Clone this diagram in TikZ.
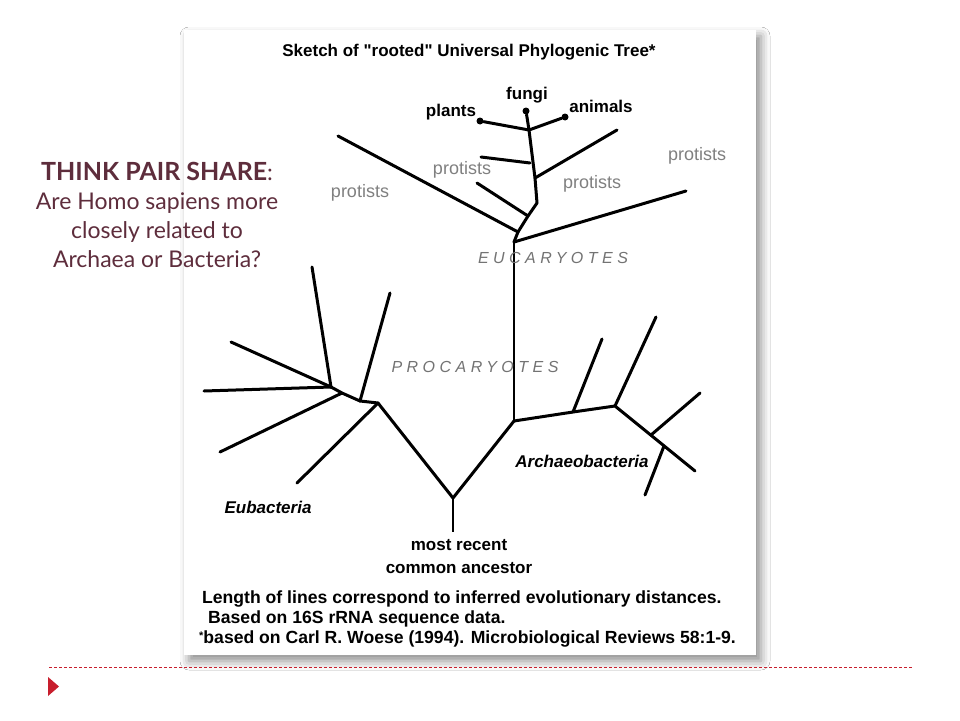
\documentclass[tikz,border=0pt]{standalone}
\usepackage{fontspec}
\usepackage{tikz}
\usetikzlibrary{shadows.blur}
\setmainfont{Liberation Sans}
\newfontfamily\slidefont{Lato}
\newfontfamily\spacedfont[LetterSpace=28]{Liberation Sans}
\newcommand{\straightquote}{\XeTeXglyph\XeTeXglyphindex "quotedbl"\relax}
\definecolor{plum}{RGB}{94,45,60}
\definecolor{slidered}{RGB}{200,30,45}

\begin{document}
\begin{tikzpicture}[x=1pt, y=-1pt,
  branch/.style={line width=3pt, line cap=round, line join=round},
  stem/.style={line width=2pt},
  tip/.style={circle, fill, inner sep=0pt, minimum size=7pt},
  lbl/.style={inner sep=0pt, font=\fontsize{17}{20}\selectfont\bfseries},
  grp/.style={inner sep=0pt, text=black!55, font=\fontsize{16}{18}\selectfont\spacedfont\itshape},
  prot/.style={inner sep=0pt, text=black!50, font=\fontsize{18}{20}\selectfont},
  note/.style={inner sep=0pt, anchor=west, font=\fontsize{17.6}{20}\selectfont\bfseries}]
\useasboundingbox (0,0) rectangle (960,720);
\fill[white] (0,0) rectangle (960,720);
% card with shadow
\fill[white, blur shadow={shadow xshift=5pt, shadow yshift=-6pt, shadow blur radius=9pt, shadow opacity=45}]
  (184,30) rectangle (756,655);

\node[lbl] (title) at (469,52) {Sketch of \straightquote rooted\straightquote\ Universal Phylogenic Tree*};

% eucaryotes
\node[tip] (pl) at (480,121) {};
\node[tip] (fu) at (526,111) {};
\node[tip] (an) at (565,117) {};
\coordinate (e1) at (529,130);
\coordinate (e2) at (530,163);
\coordinate (e3) at (535,178);
\coordinate (e4) at (537,203);
\coordinate (e5) at (528,216);
\coordinate (e6) at (518,232);
\coordinate (e7) at (514,242);
\coordinate (p1) at (481,157);
\coordinate (p2) at (617,130);
\coordinate (p3) at (477,183);
\coordinate (p4) at (338,136);
\coordinate (p5) at (686,191);
\draw[branch] (pl) -- (e1) -- (an);
\draw[branch] (fu) -- (e1);
\draw[branch] (e1) -- (e3) -- (e4) -- (e5) -- (e6) -- (e7);
\draw[branch] (e2) -- (p1);
\draw[branch] (e3) -- (p2);
\draw[branch] (e5) -- (p3);
\draw[branch] (e6) -- (p4);
\draw[branch] (e7) -- (p5);

% archaeobacteria
\coordinate (r1) at (514,421);
\coordinate (a1) at (573,412);
\coordinate (a2) at (615,406);
\coordinate (a3) at (651,435);
\coordinate (a5) at (664,446);
\coordinate (a4) at (695,471);
\coordinate (q1) at (602,339);
\coordinate (q2) at (656,317);
\coordinate (q3) at (700,393);
\coordinate (q4) at (645,495);
\draw[stem] (e7) -- (r1);
\draw[branch] (r1) -- (a1) -- (a2) -- (a4);
\draw[branch] (a1) -- (q1);
\draw[branch] (a2) -- (q2);
\draw[branch] (a3) -- (q3);
\draw[branch] (a5) -- (q4);

% eubacteria and root
\coordinate (rt) at (453,498);
\coordinate (rb) at (453,532);
\coordinate (b1) at (378,403);
\coordinate (b2) at (360,401);
\coordinate (b3) at (342,393);
\coordinate (b4) at (331,387);
\coordinate (c1) at (297,483);
\coordinate (c2) at (390,293);
\coordinate (c3) at (220,452);
\coordinate (c4) at (312,267);
\coordinate (c5) at (204,391);
\coordinate (c6) at (231,342);
\draw[branch] (b2) -- (b1) -- (rt) -- (r1);
\draw[stem] (rt) -- (rb);
\draw[branch] (b1) -- (c1);
\draw[branch] (b2) -- (c2);
\draw[branch] (b2) -- (b3) -- (b4);
\draw[branch] (b3) -- (c3);
\draw[branch] (b4) -- (c4);
\draw[branch] (b4) -- (c5);
\draw[branch] (b4) -- (c6);

% labels
\node[lbl] (plants) at (451,112) {plants};
\node[lbl] (fungi) at (527,95) {fungi};
\node[lbl] (animals) at (601,106) {animals};
\node[prot] (pr1) at (360,193) {protists};
\node[prot] (pr2) at (462,170) {protists};
\node[prot] (pr3) at (592,184) {protists};
\node[prot] (pr4) at (697,156) {protists};
\node[grp] (euc) at (553,258) {EUCARYOTES};
\node[grp] (pro) at (475,367) {PROCARYOTES};
\node[lbl, font=\fontsize{17}{20}\selectfont\bfseries\itshape] (arch) at (582,461) {Archaeobacteria};
\node[lbl, font=\fontsize{17}{20}\selectfont\bfseries\itshape] (eub) at (268,507) {Eubacteria};
\node[lbl] (anc1) at (459,545) {most recent};
\node[lbl] (anc2) at (459,568) {common ancestor};
\node[note] (n1) at (202,599) {Length of lines correspond to inferred evolutionary distances.};
\node[note] (n2) at (208,619) {Based on 16S rRNA sequence data.};
\node[note] (n3) at (199,639) {\raisebox{4pt}{\fontsize{11}{11}\selectfont*}based on Carl R. Woese (1994). Microbiological Reviews 58:1-9.};

% slide text
\node[inner sep=0pt, align=center, text=plum, font=\slidefont\fontsize{23}{29}\selectfont] (tps) at (157,215)
  {{\fontsize{25}{29}\selectfont\bfseries THINK PAIR SHARE}:\\Are Homo sapiens more\\closely related to\\Archaea or Bacteria?};

% slide footer
\coordinate (dl) at (49,667);
\coordinate (dr) at (912,667);
\draw[slidered, line width=0.8pt, dash pattern=on 3pt off 2pt] (dl) -- (dr);
\fill[slidered] (48,677) -- (59,686.5) -- (48,696) -- cycle;
\end{tikzpicture}
\end{document}
